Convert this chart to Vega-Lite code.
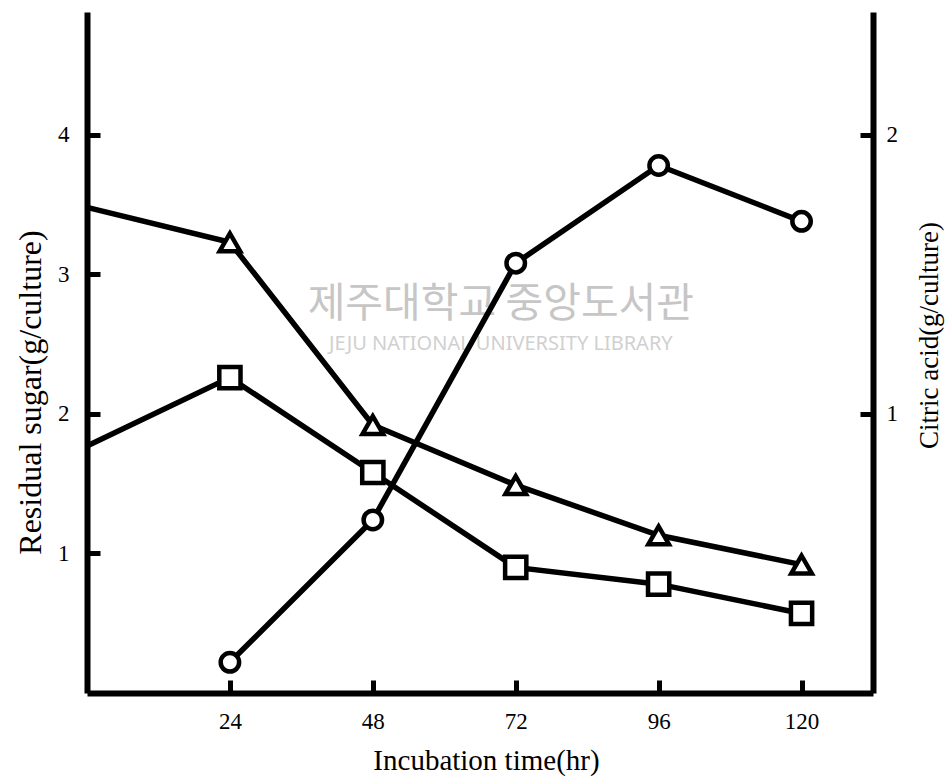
{
  "$schema": "https://vega.github.io/schema/vega-lite/v6.json",
  "width": 786,
  "height": 681,
  "autosize": {"type": "none"},
  "padding": {"left": 87, "top": 12, "right": 75, "bottom": 85},
  "background": "white",
  "config": {
    "view": {"stroke": null},
    "font": "Liberation Serif",
    "axis": {
      "domainColor": "black",
      "domainWidth": 6,
      "tickColor": "black",
      "tickWidth": 5,
      "tickSize": -13,
      "labelColor": "black",
      "titleColor": "black",
      "labelFont": "Liberation Serif",
      "titleFont": "Liberation Serif",
      "labelFontSize": 23,
      "titleFontSize": 29,
      "titleFontWeight": "normal",
      "grid": false
    }
  },
  "datasets": {
    "sugar": [
      {"time": 0, "sugar": 3.48, "series": "tri"},
      {"time": 24, "sugar": 3.23, "series": "tri"},
      {"time": 48, "sugar": 1.92, "series": "tri"},
      {"time": 72, "sugar": 1.49, "series": "tri"},
      {"time": 96, "sugar": 1.13, "series": "tri"},
      {"time": 120, "sugar": 0.92, "series": "tri"},
      {"time": 0, "sugar": 1.77, "series": "sq"},
      {"time": 24, "sugar": 2.26, "series": "sq"},
      {"time": 48, "sugar": 1.58, "series": "sq"},
      {"time": 72, "sugar": 0.90, "series": "sq"},
      {"time": 96, "sugar": 0.78, "series": "sq"},
      {"time": 120, "sugar": 0.57, "series": "sq"}
    ],
    "acid": [
      {"time": 24, "acid": 0.11},
      {"time": 48, "acid": 0.62},
      {"time": 72, "acid": 1.54},
      {"time": 96, "acid": 1.89},
      {"time": 120, "acid": 1.69}
    ],
    "wm": [
      {"time": 69.5, "sugar": 2.78, "label": "제주대학교 중앙도서관", "kind": "ko"},
      {"time": 69.5, "sugar": 2.5, "label": "JEJU NATIONAL UNIVERSITY LIBRARY", "kind": "en"}
    ]
  },
  "layer": [
    {
      "encoding": {
        "x": {"field": "time", "type": "quantitative", "scale": {"domain": [0, 132], "nice": false, "zero": false},
              "axis": {"values": [24, 48, 72, 96, 120], "title": "Incubation time(hr)", "labelPadding": 30, "titlePadding": 13, "titleX": 399}},
        "y": {"field": "sugar", "type": "quantitative", "scale": {"domain": [0, 4.88], "nice": false},
              "axis": {"values": [1, 2, 3, 4], "format": "d", "title": "Residual sugar(g/culture)", "titleFontSize": 32, "labelPadding": 31, "titlePadding": 10, "titleY": 380}}
      },
      "layer": [
        {
          "data": {"name": "wm"},
          "transform": [{"filter": "datum.kind === 'ko'"}],
          "mark": {"type": "text", "font": "Noto Sans CJK KR", "fontSize": 41, "color": "#c6c6c6", "align": "center", "baseline": "middle"},
          "encoding": {"text": {"field": "label"}}
        },
        {
          "data": {"name": "wm"},
          "transform": [{"filter": "datum.kind === 'en'"}],
          "mark": {"type": "text", "font": "Noto Sans", "fontSize": 20, "color": "#d0d0d0", "align": "center", "baseline": "middle"},
          "encoding": {"text": {"field": "label"}}
        },
        {
          "data": {"name": "sugar"},
          "mark": {"type": "line", "color": "black", "strokeWidth": 5.5},
          "encoding": {"detail": {"field": "series"}}
        },
        {
          "data": {"name": "sugar"},
          "transform": [{"filter": "datum.time > 0"}],
          "mark": {"type": "point", "fill": "white", "stroke": "black", "strokeWidth": 4.5, "opacity": 1, "filled": false, "fillOpacity": 1},
          "encoding": {
            "shape": {"field": "series", "type": "nominal", "scale": {"domain": ["tri", "sq"], "range": ["triangle-up", "square"]}, "legend": null},
            "size": {"field": "series", "type": "nominal", "scale": {"domain": ["tri", "sq"], "range": [420, 450]}, "legend": null}
          }
        }
      ]
    },
    {
      "data": {"name": "acid"},
      "encoding": {
        "x": {"field": "time", "type": "quantitative", "scale": {"domain": [0, 132], "nice": false, "zero": false}},
        "y": {"field": "acid", "type": "quantitative", "scale": {"domain": [0, 2.44], "nice": false},
              "axis": {"orient": "right", "values": [1, 2], "format": "d", "title": "Citric acid(g/culture)", "titleFontSize": 27, "titleAngle": 270, "labelPadding": 26, "titlePadding": 46, "titleY": 323}}
      },
      "layer": [
        {
          "mark": {"type": "line", "color": "black", "strokeWidth": 5.5}
        },
        {
          "mark": {"type": "point", "shape": "circle", "size": 340, "fill": "white", "stroke": "black", "strokeWidth": 4.5, "opacity": 1, "filled": false, "fillOpacity": 1}
        }
      ]
    }
  ],
  "resolve": {"scale": {"y": "independent"}}
}
